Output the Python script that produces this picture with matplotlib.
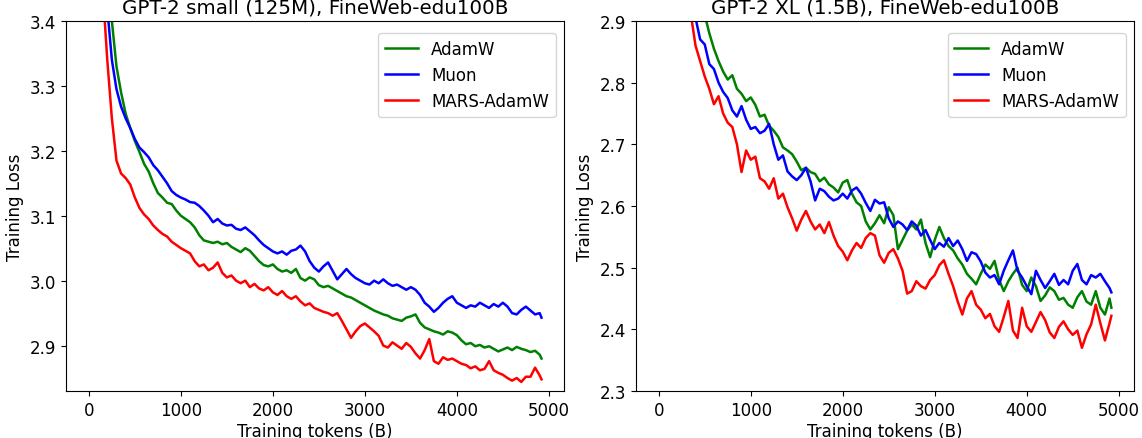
import matplotlib
matplotlib.use("Agg")
import matplotlib.pyplot as plt

# logged training tokens (B), shared by every run
tokens = [0, 100, 150, 200, 250, 300, 350, 400, 450, 500,
          550, 600, 650, 700, 750, 800, 850, 900, 950, 1000,
          1050, 1100, 1150, 1200, 1250, 1300, 1350, 1400, 1450, 1500,
          1550, 1600, 1650, 1700, 1750, 1800, 1850, 1900, 1950, 2000,
          2050, 2100, 2150, 2200, 2250, 2300, 2350, 2400, 2450, 2500,
          2550, 2600, 2650, 2700, 2750, 2800, 2850, 2900, 2950, 3000,
          3050, 3100, 3150, 3200, 3250, 3300, 3350, 3400, 3450, 3500,
          3550, 3600, 3650, 3700, 3750, 3800, 3850, 3900, 3950, 4000,
          4050, 4100, 4150, 4200, 4250, 4300, 4350, 4400, 4450, 4500,
          4550, 4600, 4650, 4700, 4750, 4800, 4850, 4900, 4920]

# GPT-2 small (125M)
small_adamw = [6.5, 4.2, 3.75, 3.55, 3.40, 3.33, 3.29, 3.257, 3.235, 3.215,
               3.198, 3.18, 3.168, 3.15, 3.135, 3.128, 3.12, 3.118, 3.108, 3.100,
               3.095, 3.090, 3.082, 3.070, 3.062, 3.060, 3.058, 3.060, 3.056, 3.058,
               3.052, 3.048, 3.044, 3.050, 3.046, 3.038, 3.030, 3.024, 3.022, 3.025,
               3.018, 3.014, 3.016, 3.012, 3.018, 3.004, 3.000, 3.005, 3.002, 2.993,
               2.990, 2.992, 2.988, 2.984, 2.980, 2.976, 2.974, 2.970, 2.966, 2.962,
               2.958, 2.954, 2.951, 2.948, 2.946, 2.942, 2.940, 2.938, 2.943, 2.945,
               2.948, 2.935, 2.928, 2.925, 2.922, 2.920, 2.917, 2.922, 2.920, 2.916,
               2.908, 2.902, 2.904, 2.899, 2.901, 2.897, 2.899, 2.895, 2.891, 2.894,
               2.897, 2.893, 2.898, 2.895, 2.893, 2.890, 2.892, 2.886, 2.880]
small_muon = [6.2, 3.95, 3.60, 3.42, 3.34, 3.295, 3.268, 3.25, 3.235, 3.218,
              3.205, 3.198, 3.19, 3.178, 3.170, 3.160, 3.150, 3.138, 3.132, 3.128,
              3.125, 3.121, 3.120, 3.115, 3.108, 3.100, 3.090, 3.095, 3.088, 3.085,
              3.086, 3.080, 3.078, 3.082, 3.076, 3.070, 3.062, 3.055, 3.050, 3.045,
              3.042, 3.045, 3.040, 3.046, 3.048, 3.054, 3.045, 3.030, 3.020, 3.014,
              3.022, 3.028, 3.015, 3.002, 3.010, 3.018, 3.010, 3.004, 3.000, 2.996,
              2.994, 3.000, 2.996, 3.002, 2.996, 2.992, 2.994, 2.990, 2.986, 2.990,
              2.986, 2.978, 2.966, 2.960, 2.952, 2.958, 2.966, 2.972, 2.976, 2.966,
              2.962, 2.958, 2.962, 2.960, 2.966, 2.962, 2.958, 2.964, 2.960, 2.966,
              2.960, 2.950, 2.948, 2.955, 2.960, 2.954, 2.948, 2.950, 2.943]
small_mars = [6.0, 3.75, 3.45, 3.34, 3.25, 3.185, 3.165, 3.158, 3.148, 3.128,
              3.112, 3.102, 3.095, 3.085, 3.078, 3.072, 3.068, 3.060, 3.055, 3.050,
              3.046, 3.042, 3.030, 3.022, 3.025, 3.016, 3.020, 3.028, 3.012, 3.005,
              3.008, 3.000, 2.996, 3.000, 2.990, 2.995, 2.988, 2.985, 2.990, 2.982,
              2.978, 2.984, 2.976, 2.972, 2.976, 2.968, 2.962, 2.965, 2.958, 2.955,
              2.952, 2.950, 2.946, 2.950, 2.938, 2.925, 2.912, 2.922, 2.930, 2.934,
              2.928, 2.922, 2.915, 2.900, 2.897, 2.905, 2.900, 2.895, 2.904, 2.898,
              2.888, 2.880, 2.893, 2.910, 2.876, 2.872, 2.882, 2.878, 2.880, 2.876,
              2.872, 2.870, 2.865, 2.868, 2.862, 2.864, 2.876, 2.862, 2.858, 2.855,
              2.850, 2.846, 2.850, 2.844, 2.852, 2.852, 2.866, 2.854, 2.848]

# GPT-2 XL (1.5B)
xl_adamw = [6.0, 4.1, 3.7, 3.45, 3.28, 3.15, 3.06, 3.00, 2.95, 2.91,
            2.88, 2.855, 2.835, 2.818, 2.805, 2.812, 2.790, 2.782, 2.770, 2.776,
            2.764, 2.745, 2.748, 2.730, 2.722, 2.712, 2.695, 2.690, 2.684, 2.672,
            2.658, 2.662, 2.655, 2.652, 2.640, 2.646, 2.635, 2.630, 2.622, 2.638,
            2.642, 2.620, 2.606, 2.600, 2.575, 2.562, 2.572, 2.585, 2.572, 2.598,
            2.585, 2.530, 2.545, 2.560, 2.570, 2.562, 2.578, 2.540, 2.517, 2.545,
            2.566, 2.548, 2.535, 2.528, 2.515, 2.505, 2.490, 2.482, 2.473, 2.490,
            2.505, 2.498, 2.511, 2.480, 2.462, 2.478, 2.490, 2.500, 2.472, 2.462,
            2.484, 2.470, 2.446, 2.455, 2.468, 2.462, 2.448, 2.451, 2.440, 2.435,
            2.452, 2.462, 2.445, 2.440, 2.462, 2.435, 2.424, 2.450, 2.435]
xl_muon = [5.8, 3.9, 3.5, 3.25, 3.10, 3.00, 2.94, 2.905, 2.87, 2.862,
           2.83, 2.822, 2.80, 2.785, 2.775, 2.755, 2.745, 2.762, 2.740, 2.725,
           2.728, 2.718, 2.722, 2.733, 2.700, 2.675, 2.682, 2.656, 2.648, 2.642,
           2.650, 2.662, 2.640, 2.609, 2.628, 2.624, 2.615, 2.609, 2.612, 2.620,
           2.612, 2.625, 2.630, 2.620, 2.605, 2.592, 2.610, 2.604, 2.606, 2.580,
           2.566, 2.575, 2.570, 2.561, 2.575, 2.568, 2.552, 2.561, 2.545, 2.530,
           2.540, 2.534, 2.548, 2.535, 2.544, 2.530, 2.511, 2.525, 2.522, 2.510,
           2.492, 2.484, 2.488, 2.473, 2.495, 2.512, 2.528, 2.495, 2.484, 2.470,
           2.457, 2.495, 2.480, 2.467, 2.478, 2.490, 2.472, 2.480, 2.473, 2.495,
           2.506, 2.480, 2.473, 2.488, 2.484, 2.490, 2.478, 2.467, 2.460]
xl_mars = [5.5, 3.6, 3.3, 3.12, 3.02, 2.96, 2.91, 2.86, 2.835, 2.81,
           2.79, 2.765, 2.778, 2.75, 2.735, 2.728, 2.70, 2.655, 2.69, 2.675,
           2.68, 2.645, 2.64, 2.628, 2.645, 2.612, 2.620, 2.598, 2.580, 2.560,
           2.578, 2.592, 2.575, 2.562, 2.570, 2.556, 2.574, 2.552, 2.535, 2.526,
           2.512, 2.528, 2.540, 2.532, 2.548, 2.556, 2.552, 2.520, 2.508, 2.524,
           2.530, 2.515, 2.495, 2.458, 2.462, 2.478, 2.470, 2.466, 2.480, 2.488,
           2.504, 2.512, 2.490, 2.470, 2.445, 2.424, 2.450, 2.462, 2.440, 2.432,
           2.418, 2.425, 2.405, 2.396, 2.420, 2.446, 2.398, 2.386, 2.435, 2.405,
           2.396, 2.412, 2.428, 2.415, 2.395, 2.386, 2.404, 2.413, 2.400, 2.391,
           2.398, 2.370, 2.392, 2.408, 2.440, 2.410, 2.382, 2.410, 2.422]

panels = [
    ("GPT-2 small (125M), FineWeb-edu100B", small_adamw, small_muon, small_mars, (2.83, 3.4)),
    ("GPT-2 XL (1.5B), FineWeb-edu100B", xl_adamw, xl_muon, xl_mars, (2.3, 2.9)),
]

fig = plt.figure(figsize=(11.42, 4.39), dpi=100)
lefts = [0.058, 0.557]

for left, (title, adamw, muon, mars, ylim) in zip(lefts, panels):
    ax = fig.add_axes([left, 0.107, 0.436, 0.843])
    ax.plot(tokens, adamw, color="green", linewidth=1.8, label="AdamW")
    ax.plot(tokens, muon, color="blue", linewidth=1.8, label="Muon")
    ax.plot(tokens, mars, color="red", linewidth=1.8, label="MARS-AdamW")
    ax.set_ylim(*ylim)
    ax.set_xticks([0, 1000, 2000, 3000, 4000, 5000])
    ax.set_title(title, fontsize=14.3)
    ax.set_xlabel("Training tokens (B)", fontsize=12, labelpad=2)
    ax.set_ylabel("Training Loss", fontsize=12)
    ax.tick_params(labelsize=12)
    ax.legend(loc="upper right", bbox_to_anchor=(1.0, 0.99), fontsize=12)

fig.savefig("out.png", dpi=100)
